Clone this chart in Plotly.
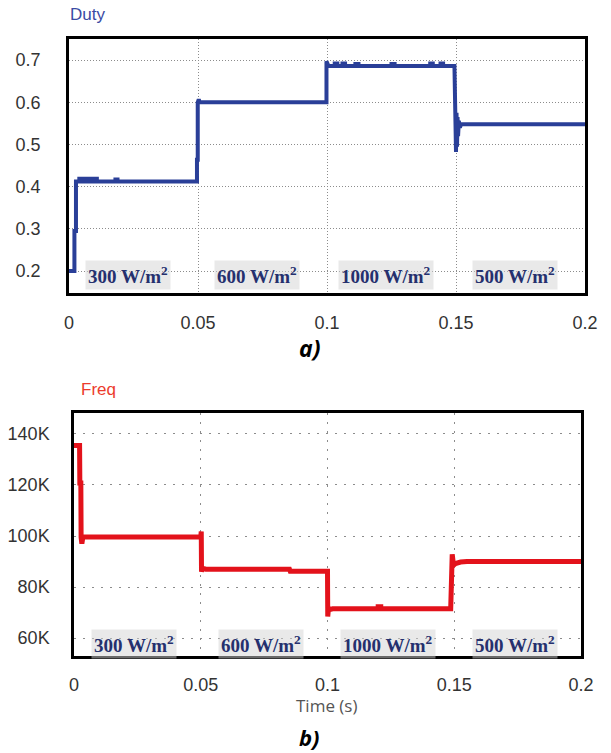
import plotly.graph_objects as go

# ---------------- data ----------------
duty_t = [0, 0.0021, 0.0021, 0.0027, 0.0027,
          0.0040, 0.0040, 0.0046, 0.0046, 0.0055, 0.0055, 0.0061, 0.0061,
          0.0070, 0.0070, 0.0076, 0.0076, 0.0086, 0.0086, 0.0092, 0.0092,
          0.0102, 0.0102, 0.0108, 0.0108, 0.0180, 0.0180, 0.0188, 0.0188,
          0.0496, 0.0496, 0.0499, 0.0499, 0.0503, 0.0506,
          0.0998, 0.0998, 0.1002, 0.1006,
          0.1030, 0.1030, 0.1040, 0.1040, 0.1060, 0.1060, 0.1070, 0.1070,
          0.1110, 0.1110, 0.1122, 0.1122, 0.1250, 0.1250, 0.1262, 0.1262,
          0.1400, 0.1400, 0.1410, 0.1410, 0.1440, 0.1440, 0.1450, 0.1450,
          0.1494, 0.1495, 0.1497, 0.1500, 0.1502, 0.1504, 0.1506, 0.1508,
          0.1511, 0.1515, 0.1520, 0.2]
duty_v = [0.200, 0.200, 0.295, 0.295, 0.412,
          0.412, 0.419, 0.419, 0.412, 0.412, 0.419, 0.419, 0.412,
          0.412, 0.419, 0.419, 0.412, 0.412, 0.419, 0.419, 0.412,
          0.412, 0.419, 0.419, 0.412, 0.412, 0.417, 0.417, 0.412,
          0.412, 0.464, 0.464, 0.600, 0.607, 0.600,
          0.600, 0.697, 0.689, 0.686,
          0.686, 0.692, 0.692, 0.686, 0.686, 0.692, 0.692, 0.686,
          0.686, 0.691, 0.691, 0.686, 0.686, 0.691, 0.691, 0.686,
          0.686, 0.692, 0.692, 0.686, 0.686, 0.692, 0.692, 0.686,
          0.686, 0.600, 0.580, 0.482, 0.575, 0.495, 0.565, 0.520,
          0.556, 0.540, 0.548, 0.548]

freq_t = [0, 0.0022, 0.0023, 0.0027, 0.0028, 0.0031, 0.0035, 0.0500, 0.0502, 0.0503,
          0.0506, 0.0520, 0.0850, 0.0853, 0.0998, 0.1000, 0.1001, 0.1004, 0.1010,
          0.1020, 0.1200, 0.1200, 0.1210, 0.1210, 0.1486, 0.1488, 0.1492, 0.1496,
          0.1500, 0.1505, 0.1525, 0.1550, 0.2]
freq_v = [135500, 135500, 120800, 120800, 99500, 97000, 99600, 99600, 101800, 86000,
          87400, 87000, 87000, 86200, 86200, 86200, 68500, 71800, 71200,
          71500, 71500, 72300, 72300, 71500, 71500, 86000, 92800, 89500,
          88800, 89200, 89800, 90000, 90000]

duty_ticks = [0.2, 0.3, 0.4, 0.5, 0.6, 0.7]
freq_ticks = [60000, 80000, 100000, 120000, 140000]
freq_labels = ["60K", "80K", "100K", "120K", "140K"]
time_ticks = [0, 0.05, 0.1, 0.15, 0.2]
time_labels = ["0", "0.05", "0.1", "0.15", "0.2"]

seg_bounds = [0, 0.05, 0.1, 0.15, 0.2]
seg_labels = ["300 W/m<sup>2</sup>", "600 W/m<sup>2</sup>",
              "1000 W/m<sup>2</sup>", "500 W/m<sup>2</sup>"]

# ---------------- figure ----------------
W, H = 611, 753
fig = go.Figure()
fig.add_trace(go.Scatter(x=duty_t, y=duty_v, mode="lines",
                         line=dict(color="#2a3f98", width=4), xaxis="x", yaxis="y",
                         showlegend=False, hoverinfo="skip"))
fig.add_trace(go.Scatter(x=freq_t, y=freq_v, mode="lines",
                         line=dict(color="#e3121b", width=5), xaxis="x2", yaxis="y2",
                         showlegend=False, hoverinfo="skip"))

tickfont = dict(family="Liberation Sans, Arial", size=18, color="#333333")
common_x = dict(range=[0, 0.2], tickvals=time_ticks, ticktext=time_labels,
                showline=True, linecolor="black", linewidth=2.5, mirror=True,
                ticks="outside", tickcolor="rgba(0,0,0,0)", tickfont=tickfont,
                zeroline=False, showgrid=True, gridcolor="#8c8c8c", gridwidth=1,
                automargin=False)
common_y = dict(showline=True, linecolor="black", linewidth=2.5, mirror=True,
                ticks="outside", tickcolor="rgba(0,0,0,0)", tickfont=tickfont,
                zeroline=False, showgrid=True, gridcolor="#8c8c8c", gridwidth=1,
                automargin=False)

fig.update_layout(
    width=W, height=H, autosize=False,
    margin=dict(l=0, r=0, t=0, b=0, autoexpand=False),
    paper_bgcolor="white", plot_bgcolor="white",
    xaxis=dict(common_x, domain=[69 / W, 585 / W], anchor="y", ticklen=12,
               griddash="1px,2px"),
    yaxis=dict(common_y, domain=[(H - 293) / H, (H - 39) / H], anchor="x",
               range=[0.148, 0.75],
               tickvals=duty_ticks, ticktext=[f"{v:.1f}" for v in duty_ticks],
               ticklen=22, griddash="1px,2px"),
    xaxis2=dict(common_x, domain=[74 / W, 581 / W], anchor="y2", ticklen=11,
                griddash="2px,7px"),
    yaxis2=dict(common_y, domain=[(H - 656) / H, (H - 413) / H], anchor="x2",
                range=[53000, 148200],
                tickvals=freq_ticks, ticktext=freq_labels, ticklen=18,
                griddash="2px,7px"),
)


def px(x, y):
    return x / W, (H - y) / H


ann = []
x0, y0 = px(68, 15)
ann.append(dict(text="Duty", x=x0, y=y0, xref="paper", yref="paper",
                showarrow=False, xanchor="left", yanchor="middle",
                font=dict(family="Liberation Sans, Arial", size=17, color="#3b4ba4")))
x0, y0 = px(79, 389)
ann.append(dict(text="Freq", x=x0, y=y0, xref="paper", yref="paper",
                showarrow=False, xanchor="left", yanchor="middle",
                font=dict(family="Liberation Sans, Arial", size=17, color="#ec3b2c")))

# irradiance labels
for i, lab in enumerate(seg_labels):
    mid = (seg_bounds[i] + seg_bounds[i + 1]) / 2
    for xr, yr, yy, xs in (("x", "y domain", 0.07, -6), ("x2", "y2 domain", 0.048, -3)):
        ann.append(dict(text=lab, x=mid, y=yy, xref=xr, yref=yr, xshift=xs,
                        showarrow=False, xanchor="center", yanchor="middle",
                        bgcolor="rgba(212,212,212,0.5)", borderpad=2,
                        font=dict(family="Liberation Serif, Times New Roman",
                                  size=19, color="#25306e", weight="bold")))

x0, y0 = px(326, 705)
ann.append(dict(text="Time (s)", x=x0, y=y0, xref="paper", yref="paper",
                showarrow=False, xanchor="center", yanchor="middle",
                font=dict(family="Open Sans", size=17, color="#555555")))

x0, y0 = px(309, 348)
ann.append(dict(text="<b><i>a)</i></b>", x=x0, y=y0, xref="paper", yref="paper",
                showarrow=False, xanchor="center", yanchor="middle",
                font=dict(family="Open Sans", size=23, color="black")))
x0, y0 = px(309, 737)
ann.append(dict(text="<b><i>b)</i></b>", x=x0, y=y0, xref="paper", yref="paper",
                showarrow=False, xanchor="center", yanchor="middle", borderpad=0,
                font=dict(family="Open Sans", size=22, color="black")))

fig.update_layout(annotations=ann)
fig.write_html("out.html", config={"displayModeBar": False},
               post_script="document.body.style.margin='0';"
                           "document.body.style.overflow='hidden';")
